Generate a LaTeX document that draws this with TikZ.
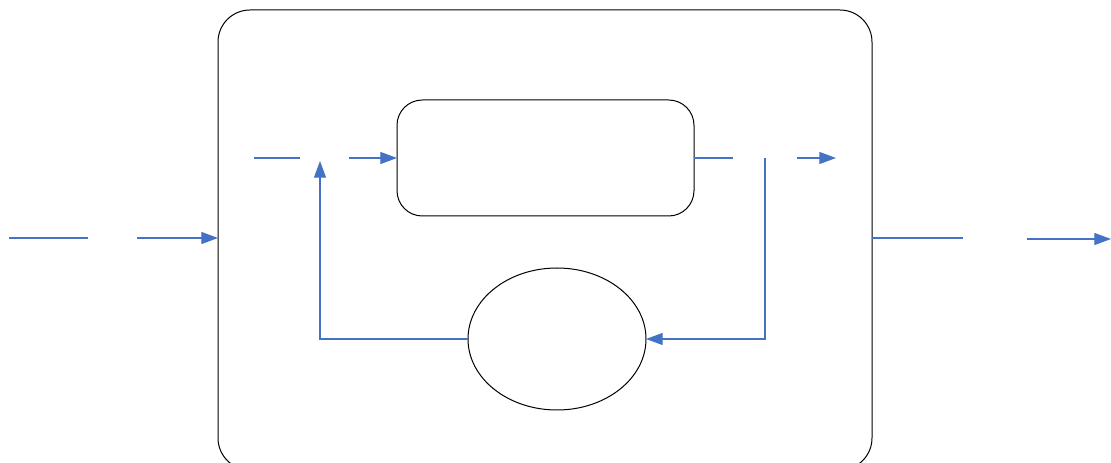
\documentclass[tikz,border=0pt]{standalone}
\usetikzlibrary{arrows.meta,shapes.geometric}
\definecolor{flowblue}{HTML}{4472C4}
\begin{document}
\begin{tikzpicture}[x=0.75pt,y=-0.75pt,
  box/.style={draw=black,line width=0.75pt,inner sep=0pt,outer sep=0pt},
  flow/.style={draw=flowblue,line width=0.8pt},
  flowarrow/.style={flow,-{Triangle[length=12.5pt,width=9pt]}}]
\useasboundingbox (0,0) rectangle (1111,463);

% outer system boundary (its lower edge runs past the page)
\node[box,rounded corners=24pt,minimum width=490.5pt,minimum height=345pt]
  (outer) at (545,240) {};
% process block
\node[box,rounded corners=19pt,minimum width=222.75pt,minimum height=87pt]
  (proc) at (545.5,158) {};
% feedback element
\node[box,ellipse,minimum width=133.5pt,minimum height=106.5pt]
  (fb) at (557,339) {};

% free ends of the broken signal lines
\coordinate (inA) at (9,238);
\coordinate (inB) at (88,238);
\coordinate (inC) at (137,238);
\coordinate (sA) at (254,158);
\coordinate (sB) at (300,158);
\coordinate (sC) at (349,158);
\coordinate (fbTip) at (320,161);
\coordinate (oB) at (733,158);
\coordinate (oC) at (797,158);
\coordinate (oD) at (836,158);
\coordinate (tap) at (765,158);
\coordinate (xB) at (963,238);
\coordinate (xC) at (1027,239);
\coordinate (xD) at (1111,239);

% input
\draw[flow] (inA) -- (inB);
\draw[flowarrow] (inC) -- (inC -| outer.west);
% into the process block
\draw[flow] (sA) -- (sB);
\draw[flowarrow] (sC) -- (sC -| proc.west);
% feedback loop
\draw[flowarrow] (fb.west) -| (fbTip);
\draw[flowarrow] (tap) |- (fb.east);
% out of the process block
\draw[flow] (proc.east) -- (oB);
\draw[flowarrow] (oC) -- (oD);
% output
\draw[flow] (outer.east |- xB) -- (xB);
\draw[flowarrow] (xC) -- (xD);
\end{tikzpicture}
\end{document}
